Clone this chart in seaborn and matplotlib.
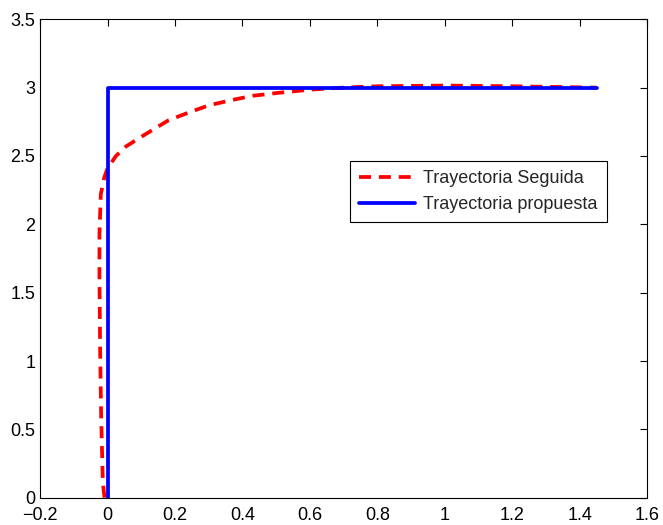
import matplotlib
matplotlib.use("Agg")
import matplotlib.pyplot as plt
import seaborn as sns
import pandas as pd

sns.set_style("white")
plt.rcParams['font.family'] = ['Liberation Sans', 'DejaVu Sans']

# Trayectoria Seguida
seg_x = [-0.009, -0.014, -0.019, -0.022, -0.024, -0.024, -0.02, -0.01, 0.0, 0.025, 0.055, 0.09,
         0.12, 0.18, 0.243, 0.30, 0.37, 0.43, 0.5, 0.6, 0.7, 0.8, 1.0, 1.2, 1.45]
seg_y = [0.0, 0.11, 0.6, 1.08, 1.6, 1.93, 2.22, 2.34, 2.41, 2.5, 2.57, 2.625,
         2.67, 2.76, 2.82, 2.87, 2.91, 2.94, 2.96, 2.985, 3.0, 3.01, 3.015, 3.01, 3.0]
# Trayectoria propuesta
prop_x = [0.0, 0.0, 1.45]
prop_y = [0.0, 3.0, 3.0]

x_ticks = [-0.2, 0, 0.2, 0.4, 0.6, 0.8, 1, 1.2, 1.4, 1.6]
x_labels = ['−0.2', '0', '0.2', '0.4', '0.6', '0.8', '1', '1.2', '1.4', '1.6']
y_ticks = [0, 0.5, 1, 1.5, 2, 2.5, 3, 3.5]
y_labels = ['0', '0.5', '1', '1.5', '2', '2.5', '3', '3.5']

df_seg = pd.DataFrame({'x': seg_x, 'y': seg_y})
df_prop = pd.DataFrame({'x': prop_x, 'y': prop_y})

fig = plt.figure(figsize=(6.63, 5.25), dpi=100)
ax = fig.add_axes([0.0605, 0.052, 0.9155, 0.9113])

LW = 2.7
DASH = [3.2, 2.1]
sns.lineplot(data=df_seg, x='x', y='y', sort=False, ax=ax, color='#ff0000',
             linewidth=LW, label='Trayectoria Seguida', estimator=None)
ax.lines[-1].set_dashes(DASH)
sns.lineplot(data=df_prop, x='x', y='y', sort=False, ax=ax, color='#0000ff',
             linewidth=LW, label='Trayectoria propuesta', estimator=None)

ax.set_xlim(-0.2, 1.6)
ax.set_ylim(0, 3.5)
ax.set_xticks(x_ticks)
ax.set_xticklabels(x_labels)
ax.set_yticks(y_ticks)
ax.set_yticklabels(y_labels)
ax.set_xlabel('')
ax.set_ylabel('')
ax.tick_params(direction='in', top=True, right=True, length=5, width=0.8,
               labelsize=13, colors='black')
ax.tick_params(axis='x', pad=7)
ax.tick_params(axis='y', pad=3.5)
for s in ax.spines.values():
    s.set_visible(True)
    s.set_color('black')
    s.set_linewidth(0.8)

leg = ax.legend(loc='upper left', bbox_to_anchor=(0.511, 0.704), fontsize=13,
                frameon=True, fancybox=False, edgecolor='black', framealpha=1,
                borderpad=0.5, handlelength=3.1, handletextpad=0.45, labelspacing=0.5,
                borderaxespad=0)
leg.get_frame().set_linewidth(0.8)
leg.legend_handles[0].set_dashes(DASH)

fig.savefig('out.png', dpi=100, facecolor='white')
